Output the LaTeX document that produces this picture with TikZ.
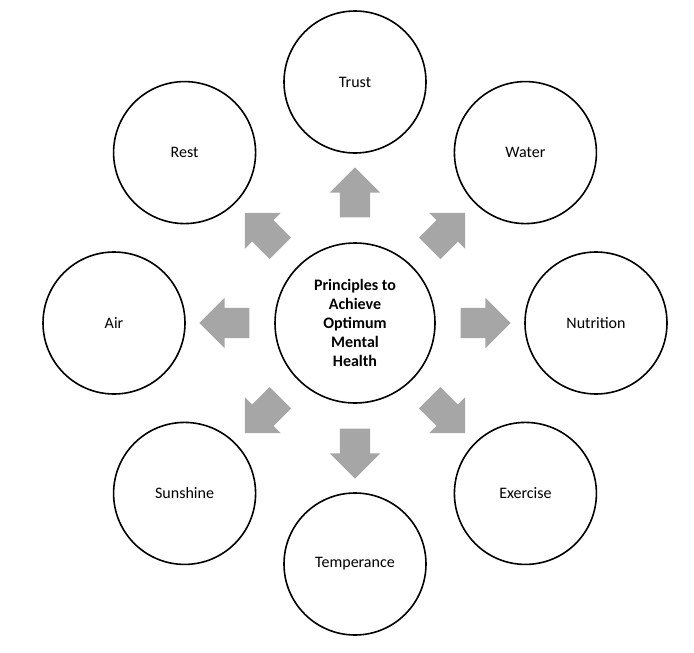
\documentclass[tikz,border=0pt]{standalone}
\usepackage{fontspec}
\setmainfont{Carlito}
\usetikzlibrary{shapes.arrows, calc}

\begin{document}
\begin{tikzpicture}[
    x=1pt, y=1pt,
    hub/.style={circle, draw, line width=1.6pt, minimum size=160pt, align=center, font=\fontsize{16}{19}\selectfont\bfseries},
    leaf/.style={circle, draw, line width=1.6pt, minimum size=142pt, font=\fontsize{16}{19}\selectfont},
    pointer/.style={single arrow, fill=gray!70, draw=none, minimum height=50pt, minimum width=50pt, inner sep=15pt, single arrow head extend=10pt}
]
\useasboundingbox (0,0) rectangle (694,-653);

% Centre
\node[hub] (hub) at (355,-323) {Principles to\\Achieve\\Optimum\\Mental\\Health};

% Outer circles and arrows
\foreach \name/\ang/\txt in {trust/90/Trust, water/45/Water, nutrition/0/Nutrition,
    exercise/-45/Exercise, temperance/-90/Temperance, sunshine/-135/Sunshine,
    air/180/Air, rest/135/Rest}
{
    \node[leaf] (\name) at ($(hub.center)+(\ang:241)$) {\txt};
    \node[pointer, rotate=\ang] (arr-\name) at ($(hub.center)+(\ang:123)$) {};
}

\end{tikzpicture}
\end{document}
